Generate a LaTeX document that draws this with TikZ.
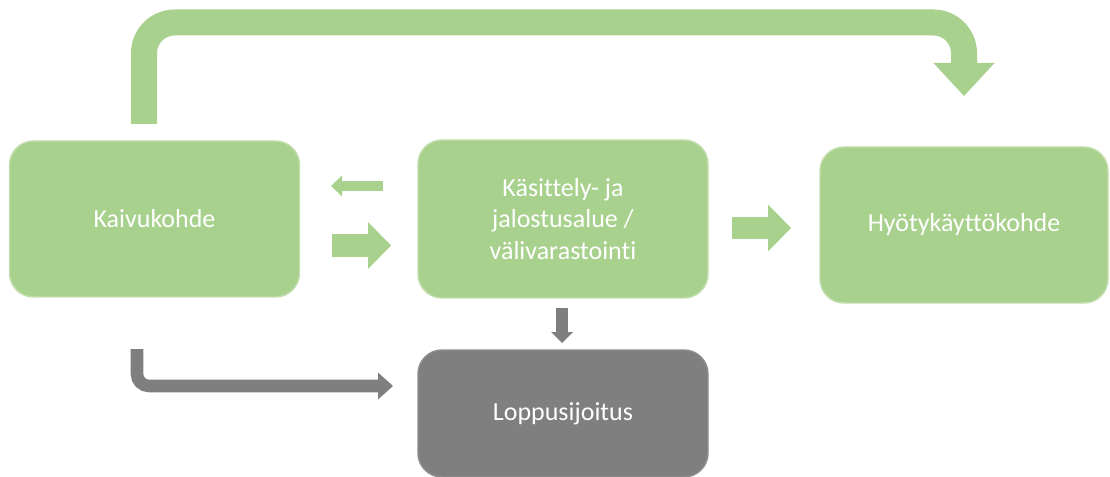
\documentclass[tikz,border=0pt]{standalone}
\usepackage{fontspec}
\setmainfont{Carlito}[Ligatures={NoCommon,NoContextual,NoRequired},Contextuals={NoAlternate}]
\usetikzlibrary{arrows.meta}
\definecolor{grn}{HTML}{A9D18E}
\definecolor{grnline}{HTML}{C2DDAE}
\definecolor{gry}{HTML}{7F7F7F}
\begin{document}
\begin{tikzpicture}[x=0.75pt,y=-0.75pt,
  box/.style={rectangle, rounded corners=18pt, fill=grn, draw=grnline, line width=1.1pt,
    inner sep=0pt, minimum width=217.5pt, minimum height=117pt, text=white,
    font=\fontsize{19.5}{23.6}\selectfont, align=center},
  tipgo/.style 2 args={-{Triangle[width=#1,length=#2,line width=0pt]}},
]
\clip (0,0) rectangle (1110,477);
% boxes
\node[box] (kaivu) at (154.5,219) {Kaivukohde};
\node[box, minimum height=118.5pt] (kasit) at (563,219) {Käsittely- ja\\jalostusalue /\\välivarastointi};
\node[box, minimum width=216pt] (hyoty) at (964,225) {Hyötykäyttökohde};
\node[box, fill=gry, draw=gry!88!white, minimum height=95.25pt] (loppu) at (563,413.5) {Loppusijoitus};
% coordinates
\coordinate (t1) at (144,124);
\coordinate (tc1) at (144,22.5);
\coordinate (tc2) at (964,22.5);
\coordinate (t2) at (964,96);
\coordinate (l1) at (383,186);
\coordinate (l2) at (331,186);
\coordinate (r1) at (332,245.5);
\coordinate (r2) at (391,245.5);
\coordinate (h1) at (732,228);
\coordinate (h2) at (791,228);
\coordinate (d1) at (562,308);
\coordinate (d2) at (562,343);
\coordinate (g1) at (137,349);
\coordinate (gc) at (137,386);
\coordinate (g2) at (393,386);
% arrows
\draw[grn, line width=19.5pt, rounded corners=23pt, tipgo={45.75pt}{24.75pt}] (t1) -- (tc1) -- (tc2) -- (t2);
\draw[grn, line width=7.5pt, tipgo={15.75pt}{8.25pt}] (l1) -- (l2);
\draw[grn, line width=17.25pt, tipgo={35.25pt}{17.25pt}] (r1) -- (r2);
\draw[grn, line width=16.5pt, tipgo={35.25pt}{17.25pt}] (h1) -- (h2);
\draw[gry, line width=9pt, tipgo={16.5pt}{8.25pt}] (d1) -- (d2);
\draw[gry, line width=9.4pt, rounded corners=9pt, tipgo={20.25pt}{11.25pt}] (g1) -- (gc) -- (g2);
\end{tikzpicture}
\end{document}
